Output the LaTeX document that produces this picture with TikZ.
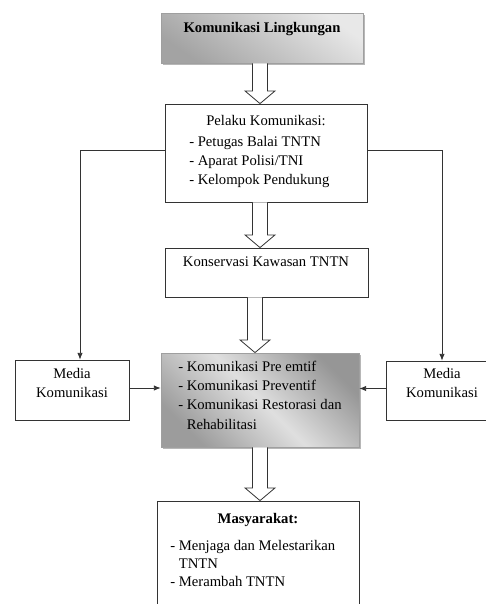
\documentclass[tikz,border=0pt]{standalone}
\usepackage{fontspec}
\setmainfont{Liberation Serif}
\usetikzlibrary{fit,shadows,arrows.meta,calc}

\tikzset{
  kotak/.style={draw=black!80, line width=0.6pt, inner sep=0pt, fill=white},
  kotakabu/.style={draw=gray!75, line width=0.6pt, inner sep=0pt,
    drop shadow={shadow xshift=1.5pt, shadow yshift=-1.5pt, fill=gray!80, opacity=0.7}},
  teks/.style={inner sep=0pt, font=\fontsize{11}{14.5}\selectfont},
  garis/.style={draw=black!80, line width=0.6pt},
  panah/.style={garis, -{Latex[length=5pt,width=4pt]}},
  blok/.style={draw=black!80, line width=0.6pt, fill=white, line join=miter},
}

\begin{document}
\begin{tikzpicture}[x=0.75pt, y=-0.75pt]
\clip (0,0) rectangle (486,604);
\fill[white] (0,0) rectangle (486,604);

% kotak-kotak
\node[kotakabu, fit={(161,13) (363,63)}, top color=gray!18, bottom color=gray!72, shading angle=-35] (komling) {};
\node[teks, font=\fontsize{11}{14.5}\selectfont\bfseries] (komlingteks) at (262,29) {Komunikasi Lingkungan};

\node[kotak, fit={(165,104) (367,202)}] (pelaku) {};
\node[teks] (pelakujudul) at (266,121) {Pelaku Komunikasi:};
\node[teks, anchor=west, align=left] (pelakuisi) at (189,162) {- Petugas Balai TNTN\\- Aparat Polisi/TNI\\- Kelompok Pendukung};

\node[kotak, fit={(165,248) (368,297)}] (konservasi) {};
\node[teks] (konservasiteks) at (266,262) {Konservasi Kawasan TNTN};

\node[kotak, fit={(15,360) (129,420)}] (mediakiri) {};
\node[teks, align=center] (mediakiriteks) at (72,383) {Media\\Komunikasi};

\node[kotak, fit={(386,361) (498,420)}] (mediakanan) {};
\node[teks, align=center] (mediakananteks) at (442,383) {Media\\Komunikasi};

\node[kotakabu, fit={(161,353) (359,447)}, top color=gray!82, bottom color=gray!78, middle color=gray!25, shading angle=-45] (strategi) {};
\node[teks, anchor=west, align=left] (strategiisi) at (178,395) {- Komunikasi Pre emtif\\- Komunikasi Preventif\\- Komunikasi Restorasi dan\\\hphantom{- }Rehabilitasi};

\node[kotak, fit={(157,501) (359,650)}] (masyarakat) {};
\node[teks, font=\fontsize{11}{14.5}\selectfont\bfseries] (masyarakatjudul) at (258,520) {Masyarakat:};
\node[teks, anchor=west, align=left, font=\fontsize{11}{13.5}\selectfont] (masyarakatisi) at (170,563) {- Menjaga dan Melestarikan\\\hphantom{- }TNTN\\- Merambah TNTN};

% panah besar
\foreach \dari/\ke/\xc in {komling/pelaku/260, pelaku/konservasi/260, konservasi/strategi/255, strategi/masyarakat/260}
{
  \coordinate (s) at (\xc,0 |- \dari.south);
  \coordinate (t) at (\xc,0 |- \ke.north);
  \draw[blok] ([xshift=-5.6pt]s) -- ([xshift=-5.6pt,yshift=9.5pt]t) -- ([xshift=-11.25pt,yshift=9.5pt]t)
    -- (t) -- ([xshift=11.25pt,yshift=9.5pt]t) -- ([xshift=5.6pt,yshift=9.5pt]t) -- ([xshift=5.6pt]s);
}

% garis penghubung
\draw[panah] ([yshift=2pt]pelaku.west) -| ([xshift=6pt]mediakiri.north);
\draw[panah] ([yshift=2pt]pelaku.east) -| (mediakanan.north);
\draw[panah] ([yshift=1.5pt]mediakiri.east) -- ([yshift=1.5pt]mediakiri.east -| strategi.west);
\draw[panah] ([yshift=1.5pt]mediakanan.west) -- ([yshift=1.5pt]mediakanan.west -| strategi.east);
\end{tikzpicture}
\end{document}
